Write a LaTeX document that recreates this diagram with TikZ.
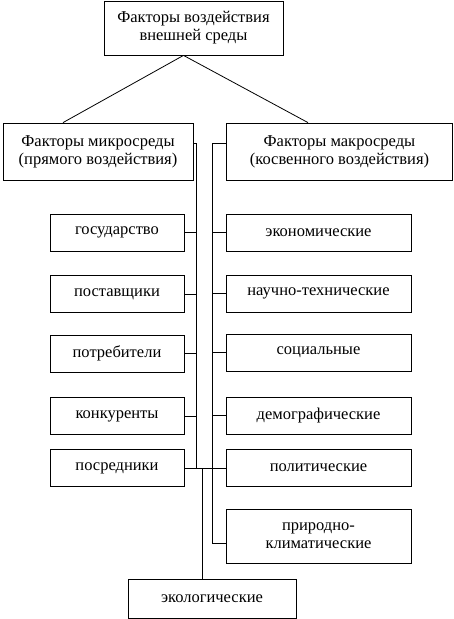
\documentclass[tikz,border=0pt]{standalone}
\usepackage{fontspec}
\setmainfont{Liberation Serif}
\usepackage{tikz}

\begin{document}
\begin{tikzpicture}[x=1pt,y=-1pt]
% Define styles
\tikzstyle{box}=[rectangle, minimum width=134pt, minimum height=37pt, inner sep=1pt, text centered, draw=black, line width=0.8pt, font=\fontsize{16.5}{18}\selectfont]
\tikzstyle{rightBox}=[box, minimum width=185pt]
\tikzstyle{headBox}=[box, align=center]
\tikzstyle{line}=[line width=0.8pt]

\useasboundingbox (0,0) rectangle (453,619);

% Draw head boxes
\node[headBox, minimum width=179pt, minimum height=54pt] (top) at (193.5,28) {Факторы воздействия\\внешней среды};
\node[headBox, minimum width=190pt, minimum height=57pt] (micro) at (98,151.5) {Факторы микросреды\\(прямого воздействия)};
\node[headBox, minimum width=226pt, minimum height=57pt] (macro) at (339.5,151.5) {Факторы макросреды\\(косвенного воздействия)};

% Left column
\node[box] (gos) at (117,232.5) {государство};
\node[box] (post) at (117,294) {поставщики};
\node[box] (potr) at (117,353.5) {потребители};
\node[box] (konk) at (117,416) {конкуренты};
\node[box] (posr) at (117,468) {посредники};

% Right column
\node[rightBox] (econ) at (318.5,232.5) {экономические};
\node[rightBox] (nauch) at (318.5,293.5) {научно-технические};
\node[rightBox] (soc) at (318.5,352.5) {социальные};
\node[rightBox] (demogr) at (318.5,415.5) {демографические};
\node[rightBox] (polit) at (318.5,468) {политические};
\node[rightBox, minimum height=54pt, align=center] (prirod) at (318.5,536) {природно-\\климатические};

% Bottom box
\node[box, minimum width=168pt, minimum height=39pt] (ekol) at (212,598.5) {экологические};

% Bus points
\coordinate (lbus) at (196,468);
\coordinate (rbus) at (212,543);
\coordinate (mid) at (202,468);

% Lines
\draw[line] ([xshift=-10pt]top.south) -- ([xshift=-35pt]micro.north);
\draw[line] ([xshift=-10pt]top.south) -- ([xshift=-31.5pt]macro.north);
\draw[line] ([yshift=8.5pt]micro.east) -| (lbus);
\draw[line] ([yshift=8.5pt]macro.west) -| (rbus) -- (rbus -| prirod.west);
\foreach \n in {gos,post,potr,konk}
  \draw[line] (\n.east) -- (\n.east -| lbus);
\foreach \n in {econ,nauch,soc,demogr}
  \draw[line] (\n.west) -- (\n.west -| rbus);
\draw[line] (posr.east) -- (polit.west);
\draw[line] (mid) -- (mid |- ekol.north);
\end{tikzpicture}
\end{document}
